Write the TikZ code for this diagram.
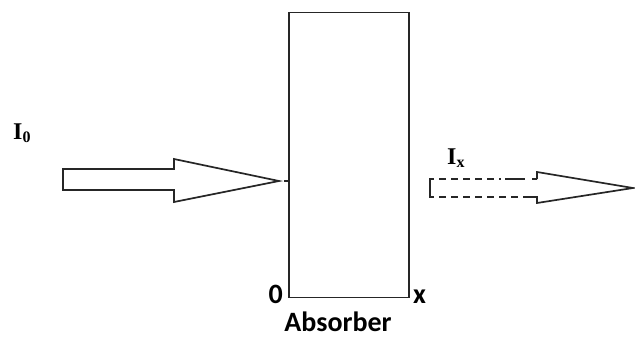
\documentclass[tikz,border=0pt]{standalone}
\usepackage{fontspec}
\setmainfont{Liberation Serif}
\newfontfamily\labelfont{Carlito}
\begin{document}
\begin{tikzpicture}[x=1pt,y=-1pt,
  outline/.style={draw=black!85, line width=1.7pt, line join=miter},
  lbl/.style={font=\labelfont\bfseries\fontsize{28}{30}\selectfont, inner sep=0pt},
  intens/.style={font=\bfseries\fontsize{24}{26}\selectfont, inner sep=0pt}]
\useasboundingbox (0,0) rectangle (635,338);
% absorber slab
\node[outline, draw, minimum width=120pt, minimum height=285pt, inner sep=0pt, anchor=north west] (absorber) at (288,11.5) {};
% incident arrow
\draw[outline] (63,169) -- (174,169) -- (174,159) -- (279,181) -- (174,202) -- (174,190) -- (63,190) -- cycle;
\coordinate (inTip) at (284,181);
\draw[outline, line width=1.4pt] (inTip) -- (absorber.west |- inTip);
% transmitted arrow
\draw[outline, line cap=butt] (434,179) -- (430,179) -- (430,197) -- (434,197);
\draw[outline, dash pattern=on 7pt off 5pt on 7pt off 5pt on 7pt off 5pt on 7pt off 5pt on 7pt off 5pt on 2pt off 4pt on 20pt] (439,179) -- (537,179);
\draw[outline, dash pattern=on 7pt off 5pt] (439,197) -- (527,197);
\draw[outline] (527,197) -- (537,197) -- (537,203) -- (633,188) -- (537,172) -- (537,179);
% labels
\node[intens, anchor=base west] (i0) at (13,139) {I\textsubscript{\fontsize{16}{18}\selectfont 0}};
\node[intens, anchor=base west] (ix) at (447,164) {I\textsubscript{\fontsize{16}{18}\selectfont x}};
\node[lbl, anchor=base east] (zero) at (283,303) {0};
\node[lbl, anchor=base west] (xl) at (413,303) {x};
\node[lbl, anchor=base, text depth=0pt] (abs) at (338,331) {Absorber};
\end{tikzpicture}
\end{document}
